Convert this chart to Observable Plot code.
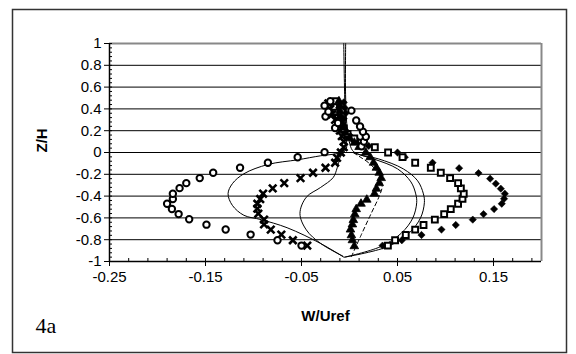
<!DOCTYPE html>
<html><head><meta charset="utf-8">
<script src="https://cdn.jsdelivr.net/npm/d3@7"></script>
<script src="https://cdn.jsdelivr.net/npm/@observablehq/plot@0.6"></script>
<style>body{margin:0;background:#fff}#chart{width:576px;height:354px}</style>
</head><body><div id="chart"></div>
<script>
// Measured series: [W/Uref, Z/H]
const circles = [
  [-0.050,-0.854],[-0.075,-0.805],[-0.103,-0.753],[-0.129,-0.707],[-0.149,-0.662],[-0.167,-0.613],
  [-0.178,-0.565],[-0.185,-0.519],[-0.190,-0.470],[-0.184,-0.427],[-0.184,-0.378],[-0.177,-0.327],
  [-0.170,-0.281],[-0.156,-0.235],[-0.142,-0.186],[-0.114,-0.140],[-0.085,-0.094],[-0.054,-0.043],
  [-0.026,0.003],[0.0125,0.058],[0.015,0.100],[0.017,0.145],[0.014,0.190],[0.011,0.238],
  [0.007,0.293],[0.002,0.384],[-0.026,0.430],[-0.025,0.330],[-0.022,0.375],[-0.015,0.225],
  [-0.012,0.270],[-0.020,0.470]
];
const crosses = [
  [-0.044,-0.854],[-0.059,-0.805],[-0.071,-0.753],[-0.082,-0.707],[-0.089,-0.659],[-0.089,-0.616],
  [-0.095,-0.561],[-0.096,-0.515],[-0.096,-0.470],[-0.093,-0.427],[-0.090,-0.378],[-0.080,-0.329],
  [-0.068,-0.281],[-0.051,-0.235],[-0.038,-0.186],[-0.025,-0.140],[-0.015,-0.094],[-0.013,-0.050],
  [-0.009,0.000],[-0.006,0.050],[-0.006,0.100],[-0.008,0.150],[-0.010,0.200],[-0.012,0.250],
  [-0.015,0.300],[-0.018,0.350],[-0.020,0.400],[-0.022,0.450]
];
const triangles = [
  [0.005,-0.860],[0.003,-0.805],[0.002,-0.760],[0.001,-0.707],[0.003,-0.660],[0.004,-0.620],
  [0.0055,-0.567],[0.007,-0.520],[0.012,-0.470],[0.018,-0.433],[0.026,-0.378],[0.028,-0.332],
  [0.031,-0.281],[0.033,-0.235],[0.031,-0.186],[0.028,-0.140],[0.025,-0.094],[0.0215,-0.043],
  [0.017,0.000],[0.010,0.050],[0.005,0.090],[0.000,0.130],[-0.004,0.180],[-0.006,0.230],
  [-0.008,0.280],[-0.009,0.330],[-0.010,0.380],[-0.010,0.430],[-0.011,0.470]
];
const squares = [
  [0.040,-0.854],[0.0475,-0.805],[0.0586,-0.757],[0.0684,-0.707],[0.0771,-0.665],[0.0889,-0.616],
  [0.0986,-0.565],[0.1055,-0.519],[0.1131,-0.470],[0.1177,-0.424],[0.119,-0.378],[0.116,-0.329],
  [0.1131,-0.281],[0.1048,-0.235],[0.0951,-0.186],[0.0847,-0.140],[0.0684,-0.094],[0.0552,-0.043],
  [0.0402,0.000],[0.0264,0.048],[0.012,0.090],[0.005,0.130],[-0.002,0.170],[-0.006,0.220],
  [-0.010,0.270],[-0.012,0.320],[-0.015,0.370],[-0.016,0.420],[-0.014,0.470]
];
const diamonds = [
  [0.0344,-0.854],[0.0545,-0.805],[0.075,-0.757],[0.0958,-0.707],[0.1107,-0.665],[0.1284,-0.616],
  [0.1396,-0.565],[0.1506,-0.519],[0.1586,-0.470],[0.161,-0.424],[0.1618,-0.378],[0.1576,-0.332],
  [0.1524,-0.286],[0.1465,-0.240],[0.1344,-0.189],[0.1142,-0.144],[0.0865,-0.094],[0.0576,-0.043],
  [0.050,0.000],[0.020,0.060],[0.008,0.110],[0.000,0.160],[-0.005,0.210],[-0.008,0.260],
  [-0.006,0.310],[-0.004,0.360],[-0.005,0.410],[-0.006,0.460]
];
// Model curves
const lineOuterLeft = [
  [-0.006,-0.960],[-0.030,-0.835],[-0.065,-0.690],[-0.092,-0.616],[-0.110,-0.576],[-0.122,-0.485],
  [-0.1265,-0.378],[-0.122,-0.286],[-0.110,-0.195],[-0.085,-0.110],[-0.054,-0.067],[-0.030,-0.030],
  [-0.012,-0.008],[-0.004,0.020],[-0.004,0.200],[-0.005,0.500],[-0.006,1.000]
];
const lineInnerLeft = [
  [-0.007,-0.950],[-0.030,-0.835],[-0.045,-0.710],[-0.0516,-0.560],[-0.045,-0.410],
  [-0.030,-0.320],[-0.017,-0.230],[-0.0128,-0.140],[-0.010,-0.050],[-0.006,0.005]
];
const lineOuterRight = [
  [-0.005,-0.960],[0.039,-0.866],[0.062,-0.740],[0.074,-0.600],[0.078,-0.460],[0.077,-0.380],
  [0.071,-0.260],[0.056,-0.150],[0.030,-0.058],[0.010,-0.018],[0.003,0.020],[-0.002,0.200],
  [-0.004,0.500],[-0.004,1.000]
];
const lineInnerRight = [
  [-0.005,-0.960],[0.032,-0.865],[0.054,-0.740],[0.066,-0.600],[0.070,-0.460],[0.069,-0.380],
  [0.064,-0.270],[0.050,-0.150],[0.026,-0.062],[0.012,-0.025],[0.004,0.000]
];
const lineDashed = [
  [0.002,-0.955],[0.012,-0.760],[0.022,-0.570],[0.031,-0.400],[0.034,-0.310],[0.031,-0.210],
  [0.022,-0.110],[0.010,-0.035],[0.002,0.010]
];
const yTicks = [-1,-0.8,-0.6,-0.4,-0.2,0,0.2,0.4,0.6,0.8,1];
const yMinor = d3.range(-50,51,2).map(v=>v/50);
const xTicks = [-0.25,-0.15,-0.05,0.05,0.15];
const xMinor = d3.range(0,23).map(k=>-0.25+0.02*k);

const pts = a => a.map(([x,y])=>({x,y}));
const lineOpts = {x:"x", y:"y", stroke:"#000", strokeWidth:1, curve:"catmull-rom"};

const chart = Plot.plot({
  width:576, height:354,
  marginLeft:109, marginRight:35, marginTop:43, marginBottom:93,
  style:{fontFamily:"'Liberation Sans', Arial, sans-serif", fontSize:"15px", color:"#000", background:"#fff", overflow:"visible"},
  x:{domain:[-0.25,0.2]},
  y:{domain:[-1,1]},
  marks:[
    Plot.ruleY(yTicks.filter(v=>v>-1 && v<1), {stroke:"#000", strokeWidth:1}),
    Plot.ruleY([1], {stroke:"#888", strokeWidth:2}),
    Plot.ruleX([0.2], {stroke:"#888", strokeWidth:2}),
    Plot.line(pts(lineOuterLeft), lineOpts),
    Plot.line(pts(lineInnerLeft), lineOpts),
    Plot.line(pts(lineOuterRight), lineOpts),
    Plot.line(pts(lineInnerRight), lineOpts),
    Plot.line(pts(lineDashed), {...lineOpts, strokeDasharray:"4,3"}),
    Plot.dot(pts(diamonds), {x:"x", y:"y", symbol:"diamond2", r:3.3, fill:"#000", stroke:"#000", strokeWidth:0.5}),
    Plot.dot(pts(squares), {x:"x", y:"y", symbol:"square", r:3.3, fill:"#fff", stroke:"#000", strokeWidth:2}),
    Plot.dot(pts(triangles), {x:"x", y:"y", symbol:"triangle", r:3.2, fill:"#000", stroke:"#000", strokeWidth:0.8}),
    Plot.dot(pts(crosses), {x:"x", y:"y", symbol:"times", r:3.5, stroke:"#000", strokeWidth:2.6}),
    Plot.dot(pts(circles), {x:"x", y:"y", symbol:"circle", r:3.2, fill:"#fff", stroke:"#000", strokeWidth:2}),
    Plot.ruleX([-0.25], {stroke:"#000", strokeWidth:1.5}),
    Plot.ruleY([-1], {stroke:"#000", strokeWidth:1.5}),
    Plot.axisY({ticks:yMinor, tickSize:-3, tickFormat:()=>"", label:null}),
    Plot.axisX({ticks:xMinor, tickSize:-3, tickFormat:()=>"", label:null}),
    Plot.axisY({ticks:yTicks, tickSize:5, tickPadding:3, label:null, fontSize:15,
      tickFormat:d=>d===0?"0":String(+d.toFixed(1))}),
    Plot.axisX({ticks:xTicks, tickSize:5, tickPadding:5, label:null, fontSize:15,
      tickFormat:d=>d.toFixed(2)}),
    Plot.text(["Z/H"], {frameAnchor:"left", dx:-67, rotate:-90, fontWeight:"bold", fontSize:15}),
    Plot.text(["W/Uref"], {frameAnchor:"bottom", dy:55, lineAnchor:"middle", fontWeight:"bold", fontSize:15}),
    Plot.text(["4a"], {frameAnchor:"bottom-left", dx:-74, dy:64, lineAnchor:"middle", textAnchor:"start",
      fontFamily:"'Liberation Serif', 'Times New Roman', serif", fontSize:22})
  ]
});
d3.select(chart).append("rect")
  .attr("x",12.5).attr("y",9.5).attr("width",554).attr("height",343)
  .attr("fill","none").attr("stroke","#333").attr("stroke-width",1.5);
document.getElementById("chart").appendChild(chart);
</script>
</body></html>
